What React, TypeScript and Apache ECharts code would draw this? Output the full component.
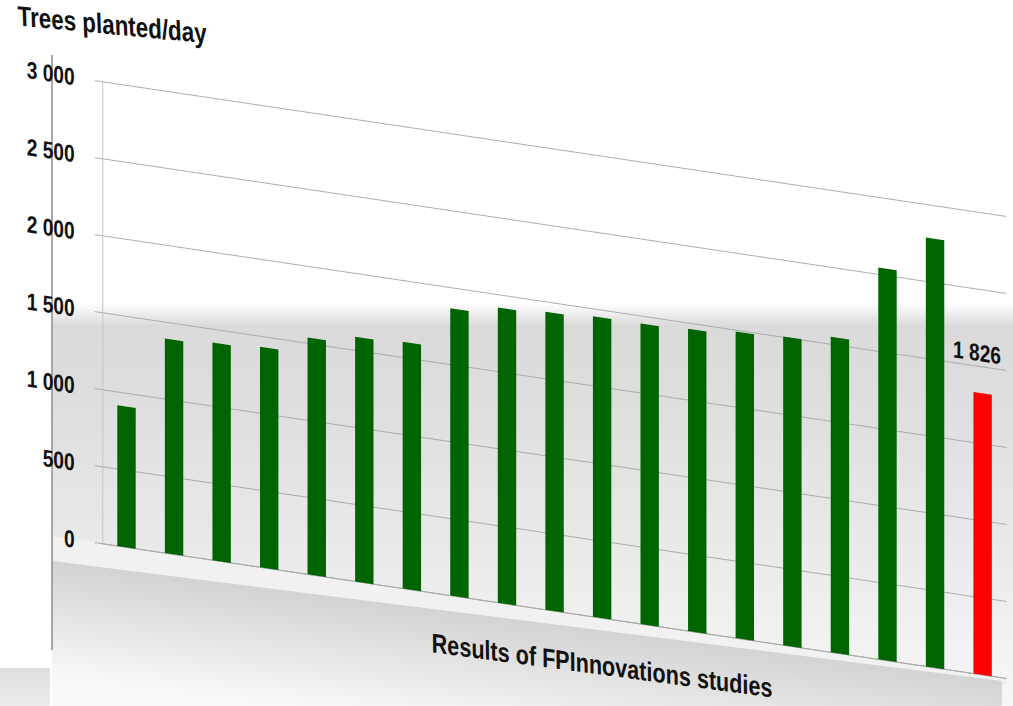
import React, { useEffect, useRef } from "react";
import * as echarts from "echarts";

// Trees planted per day, one bar per FPInnovations study
const studies = [
  "S1", "S2", "S3", "S4", "S5", "S6", "S7", "S8", "S9", "S10",
  "S11", "S12", "S13", "S14", "S15", "S16", "S17", "S18", "Current",
];
const plantedPerDay = [
  913, 1391, 1412, 1429, 1535, 1587, 1600, 1863, 1914, 1933,
  1949, 1948, 1960, 1988, 2001, 2046, 2541, 2781,
];
const currentValue = 1826;
const yMin = 0;
const yMax = 3000;
const yStep = 500;

const yTitle = "Trees planted/day";
const xTitle = "Results of FPInnovations studies";

// Perspective: horizontal squeeze plus a downward slope to the right
const SX = 0.8;
const SLOPE = 0.149;
const KY = SX * SLOPE;
// The skewed canvas starts above the page so the tilted title is not cut off
const LIFT = 40;

const FONT = "'Liberation Sans', Arial, sans-serif";
const GREEN = "#006400";
const RED = "#ff0000";
const GRID_GRAY = "#a8a8a8";

const spaced = (v: number) =>
  String(v).replace(/\B(?=(\d{3})+(?!\d))/g, " ");

export default function App() {
  const backRef = useRef<HTMLDivElement>(null);
  const chartRef = useRef<HTMLDivElement>(null);

  useEffect(() => {
    const back = echarts.init(backRef.current!, null, { renderer: "svg" });
    const chart = echarts.init(chartRef.current!, null, { renderer: "svg" });

    const G = echarts.graphic;

    back.setOption({
      animation: false,
      graphic: [
        {
          type: "rect",
          silent: true,
          shape: { x: 52, y: 295, width: 961, height: 411 },
          style: {
            fill: new G.LinearGradient(0, 0, 0, 1, [
              { offset: 0, color: "#ffffff" },
              { offset: 0.02, color: "#ffffff" },
              { offset: 0.075, color: "#dadada" },
              { offset: 0.3, color: "#dfdfdf" },
              { offset: 0.6, color: "#e9e9e9" },
              { offset: 0.94, color: "#f5f5f5" },
              { offset: 1, color: "#f7f7f7" },
            ]),
          },
        },
        {
          type: "polygon",
          silent: true,
          shape: { points: [[52, 536], [1006, 678], [1006, 684], [52, 561]] },
          style: { fill: "#f1f1f1" },
        },
        {
          type: "polygon",
          silent: true,
          shape: { points: [[52, 561], [1002, 681], [1002, 706], [52, 706]] },
          style: {
            fill: new G.LinearGradient(
              527, 621, 513, 735,
              [
                { offset: 0, color: "#d3d3d3" },
                { offset: 1, color: "#f9f9f9" },
              ],
              true
            ),
          },
        },
        {
          type: "rect",
          silent: true,
          shape: { x: 0, y: 668, width: 50, height: 38 },
          style: {
            fill: new G.LinearGradient(0, 0, 0, 1, [
              { offset: 0, color: "#dedede" },
              { offset: 1, color: "#ececec" },
            ]),
          },
        },
        {
          type: "line",
          silent: true,
          shape: { x1: 52, y1: 55, x2: 52, y2: 650 },
          style: { stroke: "#8c8c8c", lineWidth: 1.5 },
        },
      ],
    });

    const barData = [
      ...plantedPerDay.map((v) => ({ value: v })),
      {
        value: currentValue,
        itemStyle: { color: RED },
        label: {
          show: true,
          position: "top",
          distance: 28,
          offset: [-7, 0],
          formatter: (p: any) => spaced(p.value),
          fontFamily: FONT,
          fontSize: 24,
          fontWeight: "bold",
          color: "#111",
        },
      },
    ];

    chart.setOption({
      animation: false,
      grid: {
        left: 128.4,
        top: 65.85 + LIFT,
        width: 1129.6,
        height: 462.65,
        outerBoundsMode: "none",
      },
      xAxis: {
        type: "category",
        data: studies,
        axisLine: { show: true, lineStyle: { color: GRID_GRAY, width: 1 } },
        axisTick: { show: false },
        axisLabel: { show: false },
        splitLine: { show: false },
      },
      yAxis: {
        type: "value",
        min: yMin,
        max: yMax,
        interval: yStep,
        axisLine: { show: true, lineStyle: { color: "#c4c4c4", width: 1 } },
        axisTick: { show: true, length: 10, lineStyle: { color: GRID_GRAY } },
        axisLabel: {
          margin: 35,
          formatter: (v: number) => spaced(v),
          fontFamily: FONT,
          fontSize: 24,
          fontWeight: "bold",
          color: "#111",
        },
        splitLine: { show: true, lineStyle: { color: GRID_GRAY, width: 1 } },
      },
      series: [
        {
          type: "bar",
          data: barData,
          barWidth: 23,
          itemStyle: { color: GREEN },
        },
      ],
      graphic: [
        {
          type: "text",
          x: 22,
          y: 13 + LIFT,
          rotation: 0.045,
          silent: true,
          style: {
            text: yTitle,
            fontFamily: FONT,
            fontSize: 28,
            fontWeight: "bold",
            fill: "#111",
            align: "left",
            verticalAlign: "middle",
          },
        },
        {
          type: "text",
          x: 539.6,
          y: 578.5 + LIFT,
          rotation: 0.0128,
          silent: true,
          style: {
            text: xTitle,
            fontFamily: FONT,
            fontSize: 27,
            fontWeight: "bold",
            fill: "#111",
            align: "left",
            verticalAlign: "middle",
          },
        },
      ],
    });

    return () => {
      chart.dispose();
      back.dispose();
    };
  }, []);

  return (
    <div
      style={{
        position: "fixed",
        left: 0,
        top: 0,
        width: 1013,
        height: 706,
        overflow: "hidden",
        background: "#ffffff",
      }}
    >
      <div
        ref={backRef}
        style={{ position: "absolute", left: 0, top: 0, width: 1013, height: 706 }}
      />
      <div
        ref={chartRef}
        style={{
          position: "absolute",
          left: 0,
          top: -LIFT,
          width: 1267,
          height: 800,
          transformOrigin: "0 0",
          transform: `matrix(${SX}, ${KY}, 0, 1, 0, 0)`,
        }}
      />
    </div>
  );
}
